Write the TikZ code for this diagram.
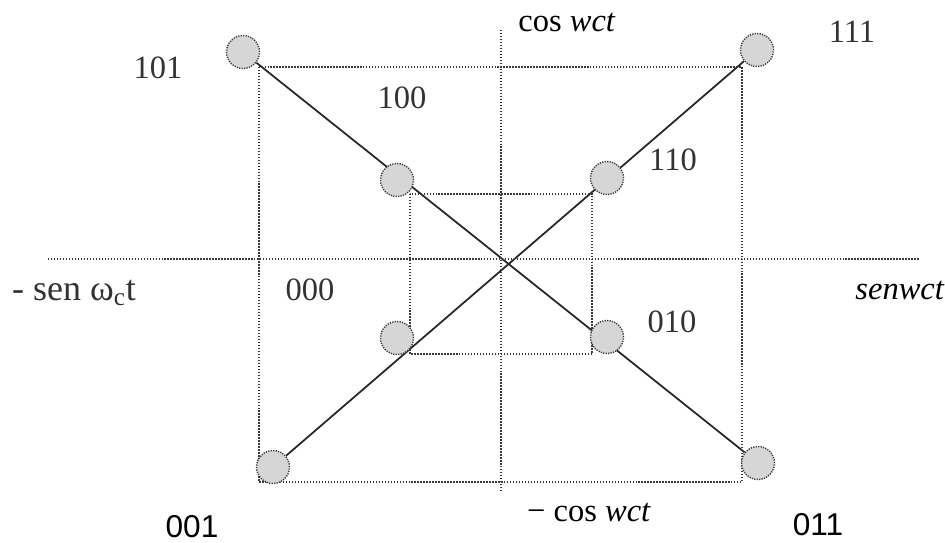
\documentclass[tikz,border=0pt]{standalone}
\usepackage{fontspec}
\setmainfont{Liberation Serif}
\newfontfamily\arialfont{Liberation Sans}
\usetikzlibrary{backgrounds}

\tikzset{
  point/.style={circle, minimum size=0.66cm, inner sep=0pt, fill=gray!32,
    draw=gray!45!black, line width=0.8pt, dash pattern=on 0.7pt off 0.7pt},
  guide/.style={draw=gray!45!black, line width=0.7pt, dash pattern=on 0.8pt off 0.9pt},
  branch/.style={draw=black!85, line width=1pt},
  code/.style={font=\fontsize{18.5}{20}\selectfont, text=black!80},
  codesans/.style={font=\arialfont\fontsize{18}{20}\selectfont},
}

\begin{document}
\begin{tikzpicture}[x=0.02cm, y=-0.02cm]
  \useasboundingbox (0,0) rectangle (945,542);

  % axes
  \draw[guide] (48,259) -- (920,259);
  \draw[guide] (501,30) -- (501,490);

  % outer and inner squares
  \draw[guide] (259,67) rectangle (742,482);
  \draw[guide] (410,194) rectangle (592,354);

  % constellation points
  \foreach \name/\x/\y in {101/243/52, 111/757/50, 001/273/467, 011/758/463,
                           100/397/180, 110/607/178, 000/397/338, 010/607/337}{
    \node[point] (c\name) at (\x,\y) {};
  }

  % lines under the points
  \begin{pgfonlayer}{background}
    \draw[branch] (c101) -- (c011);
    \draw[branch] (c001) -- (c111);
  \end{pgfonlayer}

  % symbol labels
  \foreach \lab/\x/\y in {101/158/68, 100/402/98, 111/852/32, 110/673/160,
                          000/310/290, 010/672/322}{
    \node[code] (l\lab) at (\x,\y) {\lab};
  }
  \node[codesans] (l001) at (192,527) {001};
  \node[codesans] (l011) at (818,525) {011};

  % axis labels
  \node[code, text=black] (cosp) at (567,23) {cos \textit{wct}};
  \node[code, text=black] (cosn) at (589,512) {− cos \textit{wct}};
  \node[code, text=black] (senp) at (900,290) {\textit{senwct}};
  \node[code, font=\fontsize{20.5}{22}\selectfont] (senn) at (74,293) {- sen ω\textsubscript{c}t};
\end{tikzpicture}
\end{document}
